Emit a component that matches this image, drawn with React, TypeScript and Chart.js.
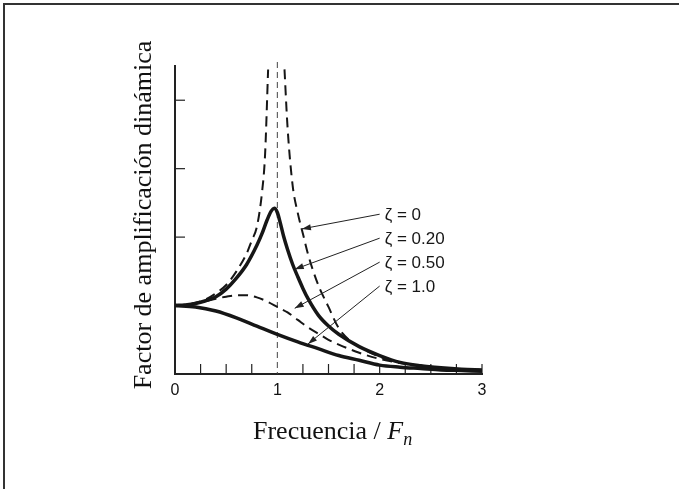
import { useEffect, useRef } from "react";
import { Chart, registerables } from "chart.js";

Chart.register(...registerables);

// ---- data ----
const xTickValues = [0, 1, 2, 3];
const yTickValues = [1, 2, 3, 4];
const xMinorTicks = [0.25, 0.5, 0.75, 1.25, 1.5, 1.75, 2, 2.25, 2.5, 2.75, 3];

const freqZeta0 = [0, 0.1, 0.2, 0.3, 0.4, 0.5, 0.6, 0.7, 0.75, 0.8, 0.85, 0.88, 0.91, 1.0, 1.07, 1.1, 1.15, 1.2, 1.25, 1.3, 1.4, 1.5, 1.6, 1.7, 1.8, 2.0, 2.2, 2.4, 2.6, 2.8, 3.0];
const ampZeta0 = [1.0, 1.01, 1.04, 1.09, 1.18, 1.3, 1.5, 1.76, 1.95, 2.15, 2.65, 3.2, 4.45, null, 4.45, 3.6, 2.75, 2.35, 2.05, 1.75, 1.3, 0.98, 0.67, 0.5, 0.4, 0.25, 0.17, 0.12, 0.09, 0.07, 0.06];

const freqZeta02 = [0, 0.1, 0.2, 0.3, 0.4, 0.5, 0.6, 0.7, 0.8, 0.85, 0.9, 0.94, 0.97, 1.0, 1.03, 1.06, 1.1, 1.15, 1.2, 1.25, 1.3, 1.4, 1.5, 1.6, 1.8, 2.0, 2.2, 2.4, 2.6, 2.8, 3.0];
const ampZeta02 = [1.0, 1.01, 1.03, 1.07, 1.13, 1.24, 1.4, 1.6, 1.88, 2.05, 2.25, 2.38, 2.42, 2.36, 2.2, 2.02, 1.82, 1.6, 1.42, 1.25, 1.1, 0.86, 0.7, 0.58, 0.4, 0.27, 0.17, 0.12, 0.09, 0.07, 0.06];

const freqZeta05 = [0, 0.2, 0.4, 0.5, 0.6, 0.7, 0.8, 0.9, 1.0, 1.1, 1.2, 1.3, 1.4, 1.5, 1.6, 1.8, 2.0, 2.2, 2.4, 2.6, 2.8, 3.0];
const ampZeta05 = [1.0, 1.03, 1.1, 1.13, 1.15, 1.15, 1.12, 1.06, 0.98, 0.9, 0.79, 0.68, 0.59, 0.5, 0.43, 0.31, 0.22, 0.16, 0.12, 0.09, 0.07, 0.06];

const freqZeta1 = [0, 0.2, 0.4, 0.6, 0.8, 1.0, 1.2, 1.4, 1.6, 1.8, 2.0, 2.2, 2.4, 2.6, 2.8, 3.0];
const ampZeta1 = [1.0, 0.98, 0.92, 0.82, 0.7, 0.58, 0.47, 0.37, 0.27, 0.2, 0.13, 0.1, 0.08, 0.06, 0.05, 0.04];

const seriesLabels = ["\u03B6 = 0", "\u03B6 = 0.20", "\u03B6 = 0.50", "\u03B6 = 1.0"];
// label anchor (data coords) and arrow tip (data coords)
const labelX = [2.0, 2.0, 2.0, 2.0];
const labelY = [2.32, 1.97, 1.62, 1.27];
const arrowTipX = [1.24, 1.17, 1.17, 1.3];
const arrowTipY = [2.12, 1.53, 0.96, 0.44];

const xTitle = "Frecuencia / ";
const xTitleItalic = "F";
const xTitleSub = "n";
const yTitle = "Factor de amplificación dinámica";

const toPoints = (xs: number[], ys: (number | null)[]) =>
  xs.map((x, i) => ({ x, y: ys[i] }));

export default function App() {
  const ref = useRef<HTMLCanvasElement | null>(null);

  useEffect(() => {
    const canvas = ref.current;
    if (!canvas) return;
    const ink = "#161616";

    const decor = {
      id: "decor",
      beforeDraw(chart: any) {
        const ctx = chart.ctx;
        ctx.save();
        ctx.fillStyle = "#ffffff";
        ctx.fillRect(0, 0, chart.width, chart.height);
        ctx.strokeStyle = "#333";
        ctx.lineWidth = 2;
        ctx.beginPath();
        ctx.moveTo(4, chart.height);
        ctx.lineTo(4, 4);
        ctx.lineTo(chart.width, 4);
        ctx.stroke();
        ctx.restore();
      },
      beforeDatasetsDraw(chart: any) {
        const ctx = chart.ctx;
        const xs = chart.scales.x;
        const ys = chart.scales.y;
        const area = chart.chartArea;
        ctx.save();
        // dashed vertical at resonance
        ctx.strokeStyle = "#444";
        ctx.lineWidth = 1;
        ctx.setLineDash([6, 4]);
        const x1 = xs.getPixelForValue(1);
        ctx.beginPath();
        ctx.moveTo(x1, area.top - 4);
        ctx.lineTo(x1, area.bottom);
        ctx.stroke();
        ctx.setLineDash([]);
        // x ticks pointing up
        ctx.strokeStyle = "#222";
        ctx.lineWidth = 1.2;
        xMinorTicks.forEach((v) => {
          const px = xs.getPixelForValue(v);
          ctx.beginPath();
          ctx.moveTo(px, area.bottom);
          ctx.lineTo(px, area.bottom - 10);
          ctx.stroke();
        });
        // y ticks pointing right
        yTickValues.forEach((v) => {
          const py = ys.getPixelForValue(v);
          ctx.beginPath();
          ctx.moveTo(area.left, py);
          ctx.lineTo(area.left + 10, py);
          ctx.stroke();
        });
        ctx.restore();
      },
      afterDraw(chart: any) {
        const ctx = chart.ctx;
        const xs = chart.scales.x;
        const ys = chart.scales.y;
        ctx.save();
        // labels and arrows
        ctx.font = "17px 'Liberation Sans', Arial, sans-serif";
        ctx.fillStyle = ink;
        ctx.textBaseline = "middle";
        ctx.textAlign = "left";
        seriesLabels.forEach((lab, i) => {
          const lx = xs.getPixelForValue(labelX[i]);
          const ly = ys.getPixelForValue(labelY[i]);
          ctx.fillText(lab, lx + 5, ly);
          const sx = lx;
          const sy = ly - 1;
          const tx = xs.getPixelForValue(arrowTipX[i]);
          const ty = ys.getPixelForValue(arrowTipY[i]);
          ctx.strokeStyle = "#222";
          ctx.lineWidth = 1;
          ctx.beginPath();
          ctx.moveTo(sx, sy);
          ctx.lineTo(tx, ty);
          ctx.stroke();
          const ang = Math.atan2(ty - sy, tx - sx);
          const L = 9;
          const W = 3;
          ctx.beginPath();
          ctx.moveTo(tx, ty);
          ctx.lineTo(tx - L * Math.cos(ang) + W * Math.sin(ang), ty - L * Math.sin(ang) - W * Math.cos(ang));
          ctx.lineTo(tx - L * Math.cos(ang) - W * Math.sin(ang), ty - L * Math.sin(ang) + W * Math.cos(ang));
          ctx.closePath();
          ctx.fillStyle = "#222";
          ctx.fill();
          ctx.fillStyle = ink;
        });
        // axis titles
        ctx.fillStyle = "#111";
        ctx.textBaseline = "alphabetic";
        ctx.font = "26px 'Liberation Serif', 'Times New Roman', serif";
        let x = 253;
        const base = 439;
        ctx.fillText(xTitle, x, base);
        x += ctx.measureText(xTitle).width;
        ctx.font = "italic 26px 'Liberation Serif', 'Times New Roman', serif";
        ctx.fillText(xTitleItalic, x, base);
        x += ctx.measureText(xTitleItalic).width;
        ctx.font = "italic 18px 'Liberation Serif', 'Times New Roman', serif";
        ctx.fillText(xTitleSub, x, base + 6);

        ctx.save();
        ctx.translate(151, 215);
        ctx.rotate(-Math.PI / 2);
        ctx.textAlign = "center";
        ctx.font = "26px 'Liberation Serif', 'Times New Roman', serif";
        ctx.fillText(yTitle, 0, 0);
        ctx.restore();
        ctx.restore();
      },
    };

    const solid = {
      borderColor: ink,
      borderWidth: 3.5,
      pointRadius: 0,
      fill: false,
      cubicInterpolationMode: "monotone" as const,
      spanGaps: false,
    };
    const dashed = {
      borderColor: ink,
      borderWidth: 2,
      borderDash: [10, 6],
      pointRadius: 0,
      fill: false,
      cubicInterpolationMode: "monotone" as const,
      spanGaps: false,
    };

    const chart = new Chart(canvas, {
      type: "line",
      data: {
        datasets: [
          { label: seriesLabels[0], data: toPoints(freqZeta0, ampZeta0), ...dashed },
          { label: seriesLabels[1], data: toPoints(freqZeta02, ampZeta02), ...solid },
          { label: seriesLabels[2], data: toPoints(freqZeta05, ampZeta05), ...dashed },
          { label: seriesLabels[3], data: toPoints(freqZeta1, ampZeta1), ...solid },
        ] as any,
      },
      options: {
        animation: false,
        responsive: false,
        devicePixelRatio: 1,
        events: [],
        layout: { padding: { left: 175, top: 66, right: 197, bottom: 85 } },
        plugins: { legend: { display: false }, tooltip: { enabled: false } },
        scales: {
          x: {
            type: "linear",
            min: 0,
            max: 3,
            afterFit: (s: any) => {
              s.height = 30;
            },
            afterBuildTicks: (s: any) => {
              s.ticks = xTickValues.map((v) => ({ value: v }));
            },
            ticks: {
              padding: 7,
              color: "#111",
              font: { family: "'Liberation Sans', Arial, sans-serif", size: 16 },
              maxRotation: 0,
            },
            grid: { display: false, drawTicks: false },
            border: { display: true, color: "#222", width: 2 },
          },
          y: {
            type: "linear",
            min: 0,
            max: 4.5,
            afterFit: (s: any) => {
              s.width = 0;
            },
            ticks: { display: false },
            grid: { display: false, drawTicks: false },
            border: { display: true, color: "#222", width: 2 },
          },
        },
      },
      plugins: [decor],
    });
    return () => chart.destroy();
  }, []);

  return (
    <div style={{ position: "fixed", left: 0, top: 0, width: 679, height: 489, background: "#fff" }}>
      <canvas ref={ref} width={679} height={489} style={{ width: 679, height: 489, display: "block" }} />
    </div>
  );
}
